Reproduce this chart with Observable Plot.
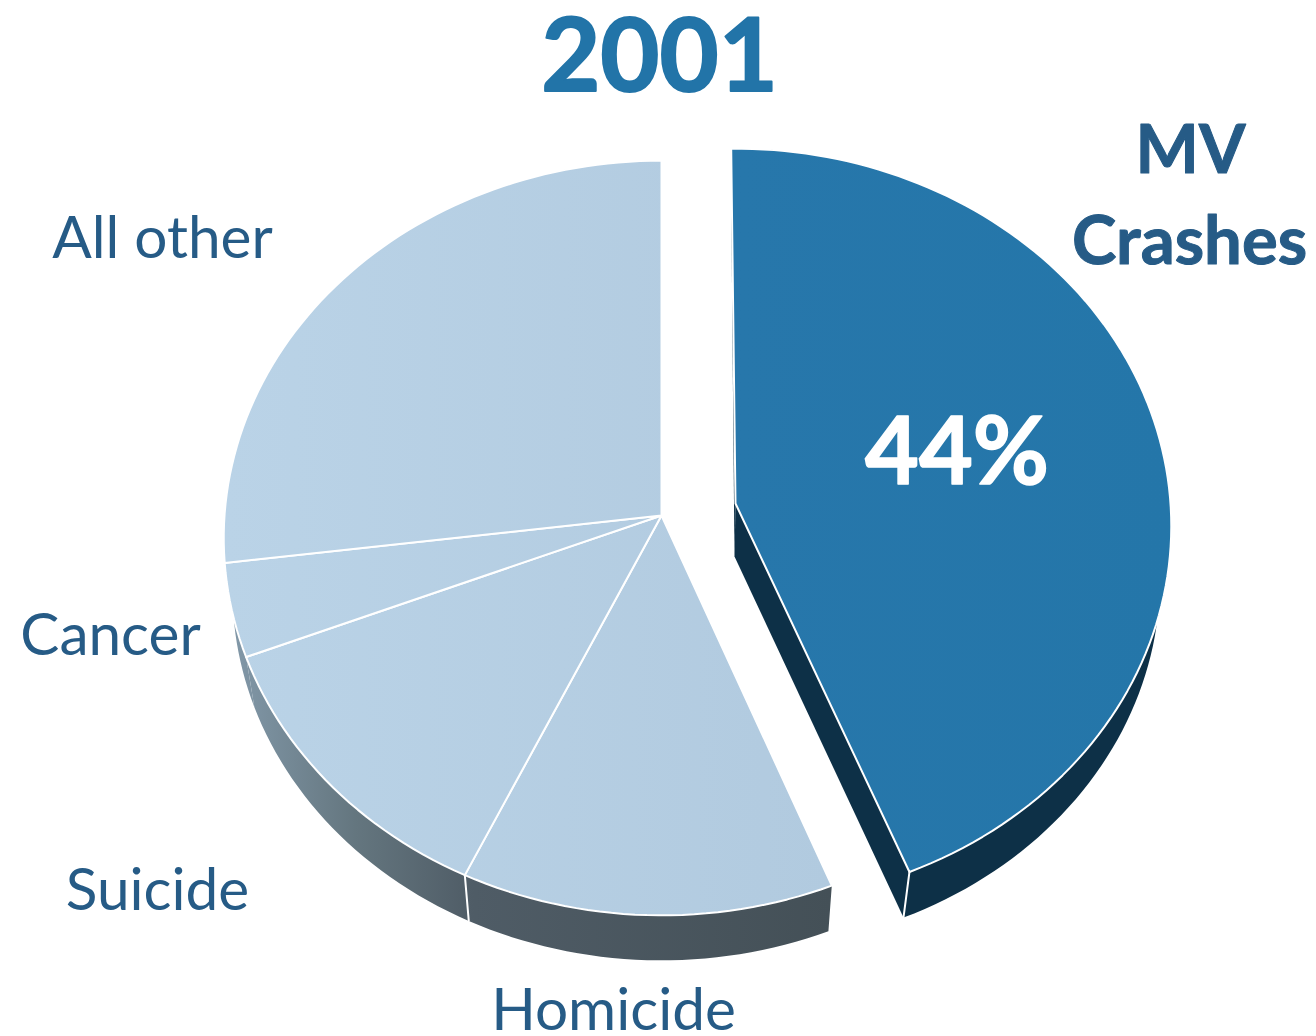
<!DOCTYPE html>
<html>
<head>
<meta charset="utf-8">
<script src="https://cdn.jsdelivr.net/npm/d3@7"></script>
<script src="https://cdn.jsdelivr.net/npm/@observablehq/plot@0.6"></script>
<style>html,body{margin:0;padding:0;background:#fff;overflow:hidden}</style>
</head>
<body>
<div id="chart"></div>
<script>
// Data
const categories = ["MV Crashes", "Homicide", "Suicide", "Cancer", "All other"];
const shares = [44, 13, 12, 4, 27];
const chartTitle = "2001";
const highlightLabel = "44%";

// Label text and placement
const labelLines = ["MV", "Crashes", "Homicide", "Suicide", "Cancer", "All other"];
const labelX = [1190, 1189, 613, 157, 110, 162];
const labelY = [172, 263, 1029, 909, 654, 257];
const labelBold = [true, true, false, false, false, false];

// Styles
const titleColor = "#2274a8";
const labelColor = "#265b86";
const edgeColor = "#ffffff";

// Perspective pie geometry
const W = 1316, H = 1036;
const B = 376, K = -0.0596;
const center = {x: 661, y: 515, a: 437};
const mvCenter = {x: 735, y: 503, a: 435};
const depth = 53, shrink = 0.98, mvTilt = -0.6, mvShift = -2.5;

function pt(c, deg, r, lower, shiftX = 0) {
  const t = deg * Math.PI / 180;
  const X = r * Math.sin(t), Y = -r * Math.cos(t);
  const w = 1 + K * Y;
  const dx = c.a * X / w, dy = B * Y / w;
  const s = lower ? shrink : 1;
  return {x: c.x + s * dx + (lower ? shiftX : 0), y: c.y + s * dy + (lower ? depth : 0)};
}
function arc(c, a0, a1, lower, shiftX) {
  const n = Math.max(2, Math.ceil(Math.abs(a1 - a0) / 1.5));
  return d3.range(n + 1).map(i => pt(c, a0 + (a1 - a0) * i / n, 1, lower, shiftX));
}
const closed = ps => [...ps, ps[0]];

const total = d3.sum(shares);
let running = 0;
const slices = categories.map((name, i) => {
  const isMv = i === 0;
  const tilt = isMv ? mvTilt : 0;
  const a0 = running / total * 360 + tilt;
  const a1 = (running + shares[i]) / total * 360 + tilt;
  running += shares[i];
  const c = isMv ? mvCenter : center;
  const sx = isMv ? mvShift : 0;
  // The arc of the lower rim starts a little past the slice's first edge, so it stays hidden there.
  const wallStart = isMv ? a0 + 4 : a0;
  const top = closed([c, ...arc(c, a0, a1, false)]);
  const wall = closed([...arc(c, wallStart, a1, false), ...arc(c, a1, wallStart, true, sx)]);
  const innerA = closed([c, pt(c, a0, 1, false), pt(c, a0, 1, true, 0), pt(c, a0, 0, true, -1)]);
  const innerB = closed([c, pt(c, a1, 1, false), pt(c, a1, 1, true, sx), pt(c, a1, 0, true, -1)]);
  return {name, isMv, top, wall, innerA, innerB};
});

const poly = (points, fill, stroke, strokeWidth) => Plot.line(points, {
  x: "x", y: "y", fill, stroke, strokeWidth, curve: "linear", strokeLinejoin: "round"
});

function defs() {
  const ns = "http://www.w3.org/2000/svg";
  const d = document.createElementNS(ns, "defs");
  const grad = (id, x1, x2, stops) => {
    const g = document.createElementNS(ns, "linearGradient");
    g.setAttribute("id", id);
    g.setAttribute("gradientUnits", "userSpaceOnUse");
    g.setAttribute("x1", x1); g.setAttribute("x2", x2);
    g.setAttribute("y1", 0); g.setAttribute("y2", 0);
    stops.forEach(([o, col]) => {
      const s = document.createElementNS(ns, "stop");
      s.setAttribute("offset", o); s.setAttribute("stop-color", col);
      g.appendChild(s);
    });
    d.appendChild(g);
  };
  grad("face", 224, 832, [[0, "#bad3e7"], [1, "#b1cadf"]]);
  grad("mvface", 735, 1171, [[0, "#2777ab"], [1, "#2476a9"]]);
  grad("wall", 236, 830, [[0, "#8197a7"], [0.2, "#64767f"], [0.4, "#4f5c66"], [1, "#445057"]]);
  return d;
}

const marks = [defs];
// Side walls behind the faces
slices.forEach(s => {
  const fill = s.isMv ? "#0d3047" : "url(#wall)";
  marks.push(poly(s.wall, fill, "none", 0));
  if (s.isMv) {
    marks.push(poly(s.innerA, fill, "none", 0));
    marks.push(poly(s.innerB, fill, "none", 0));
  }
});
// Wall separators
{
  const a = (shares[0] + shares[1]) / total * 360;
  marks.push(poly([pt(center, a, 1, false), pt(center, a, 1, true)], "none", edgeColor, 2));
  const b = shares[0] / total * 360 + mvTilt;
  marks.push(poly([pt(mvCenter, b, 1, false), pt(mvCenter, b, 1, true, mvShift)], "none", edgeColor, 2));
}
// Top faces
slices.forEach(s => {
  marks.push(poly(s.top, s.isMv ? "url(#mvface)" : "url(#face)", edgeColor, 2));
});
// Text
const labelRows = labelLines.map((text, i) => ({text, x: labelX[i], y: labelY[i], bold: labelBold[i]}));
marks.push(Plot.text(labelRows.filter(d => !d.bold), {
  x: "x", y: "y", text: "text", fill: labelColor, fontSize: 58.5, fontWeight: 400, lineAnchor: "bottom", textAnchor: "middle"
}));
marks.push(Plot.text(labelRows.filter(d => d.bold), {
  x: "x", y: "y", text: "text", fill: labelColor, stroke: labelColor, strokeWidth: 1, fontSize: 67, fontWeight: 700, lineAnchor: "bottom", textAnchor: "middle"
}));
marks.push(Plot.text([chartTitle], {
  x: () => 659, y: () => 90, text: d => d, fill: titleColor, stroke: titleColor, strokeWidth: 2, fontSize: 102, fontWeight: 700, lineAnchor: "bottom", textAnchor: "middle"
}));
marks.push(Plot.text([highlightLabel], {
  x: () => 956.5, y: () => 483, text: d => d, fill: "#ffffff", stroke: "#ffffff", strokeWidth: 1.5, fontSize: 93, fontWeight: 700, lineAnchor: "bottom", textAnchor: "middle"
}));

const chart = Plot.plot({
  width: W, height: H,
  margin: 0,
  x: {domain: [0, W], range: [0, W], axis: null},
  y: {domain: [0, H], range: [0, H], axis: null},
  style: {fontFamily: "Lato, 'Open Sans', sans-serif", background: "#fff"},
  marks
});
document.getElementById("chart").appendChild(chart);
</script>
</body>
</html>
